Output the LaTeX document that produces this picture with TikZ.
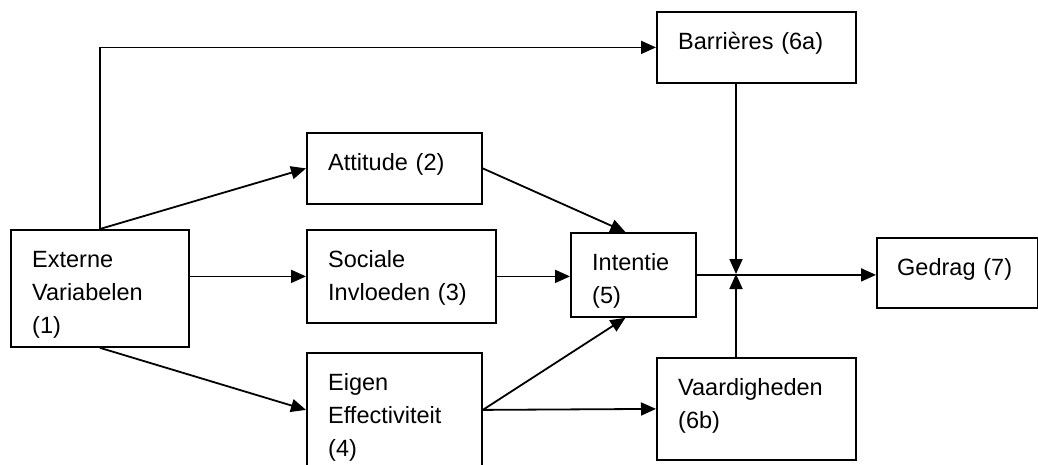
\documentclass[tikz,border=0pt]{standalone}
\usepackage{fontspec}
\setmainfont{Liberation Sans}
\usetikzlibrary{arrows.meta}

\begin{document}
\begin{tikzpicture}[x=1pt,y=-1pt,
    blok/.style={rectangle,draw,line width=1.8pt,anchor=north west},
    tekst/.style={anchor=base west,inner sep=0pt,align=left,text width=220pt,
      font=\fontsize{23.5}{33}\selectfont},
    pijl/.style={-{Triangle[length=15pt,width=13pt]},line width=1.8pt}]
  \useasboundingbox (0,0) rectangle (1038,464);
  \clip (0,0) rectangle (1038,464);
  % de blokken
  \node[blok,minimum width=178,minimum height=117] (ext) at (10,229) {};
  \node[blok,minimum width=175,minimum height=71] (att) at (306,132) {};
  \node[blok,minimum width=189,minimum height=93] (soc) at (306,229) {};
  \node[blok,minimum width=175,minimum height=114] (eig) at (306,352) {};
  \node[blok,minimum width=125,minimum height=84] (int) at (570,232) {};
  \node[blok,minimum width=199,minimum height=71] (bar) at (656,11) {};
  \node[blok,minimum width=199,minimum height=102] (vaa) at (656,357) {};
  \node[blok,minimum width=161,minimum height=70] (ged) at (876,237) {};
  % de teksten
  \node[tekst] (extT) at ([shift={(22,38)}]ext.north west) {Externe\\Variabelen\\(1)};
  \node[tekst] (attT) at ([shift={(22,38)}]att.north west) {Attitude (2)};
  \node[tekst] (socT) at ([shift={(22,38)}]soc.north west) {Sociale\\Invloeden (3)};
  \node[tekst] (eigT) at ([shift={(22,38)}]eig.north west) {Eigen\\Effectiviteit\\(4)};
  \node[tekst] (intT) at ([shift={(22,38)}]int.north west) {Intentie\\(5)};
  \node[tekst] (barT) at ([shift={(22,38)}]bar.north west) {Barrières (6a)};
  \node[tekst] (vaaT) at ([shift={(22,38)}]vaa.north west) {Vaardigheden\\(6b)};
  \node[tekst] (gedT) at ([shift={(21,38)}]ged.north west) {Gedrag (7)};
  \coordinate (knoop) at (736,274);
  % de pijlen
  \draw[pijl] (ext.north) |- (bar.west);
  \draw[pijl] (ext.north) -- (att.west);
  \draw[pijl] (ext.east |- soc.west) -- (soc.west);
  \draw[pijl] (ext.south) -- (eig.west);
  \draw[pijl] (att.east) -- ([xshift=-8]int.north);
  \draw[pijl] (soc.east) -- (soc.east -| int.west);
  \draw[pijl] (eig.east) -- ([xshift=-8]int.south);
  \draw[pijl] (eig.east) -- (vaa.west);
  \draw[pijl] (int.east) -- (int.east -| ged.west);
  \draw[pijl] (knoop |- bar.south) -- (knoop);
  \draw[pijl] (knoop |- vaa.north) -- (knoop);
\end{tikzpicture}
\end{document}
